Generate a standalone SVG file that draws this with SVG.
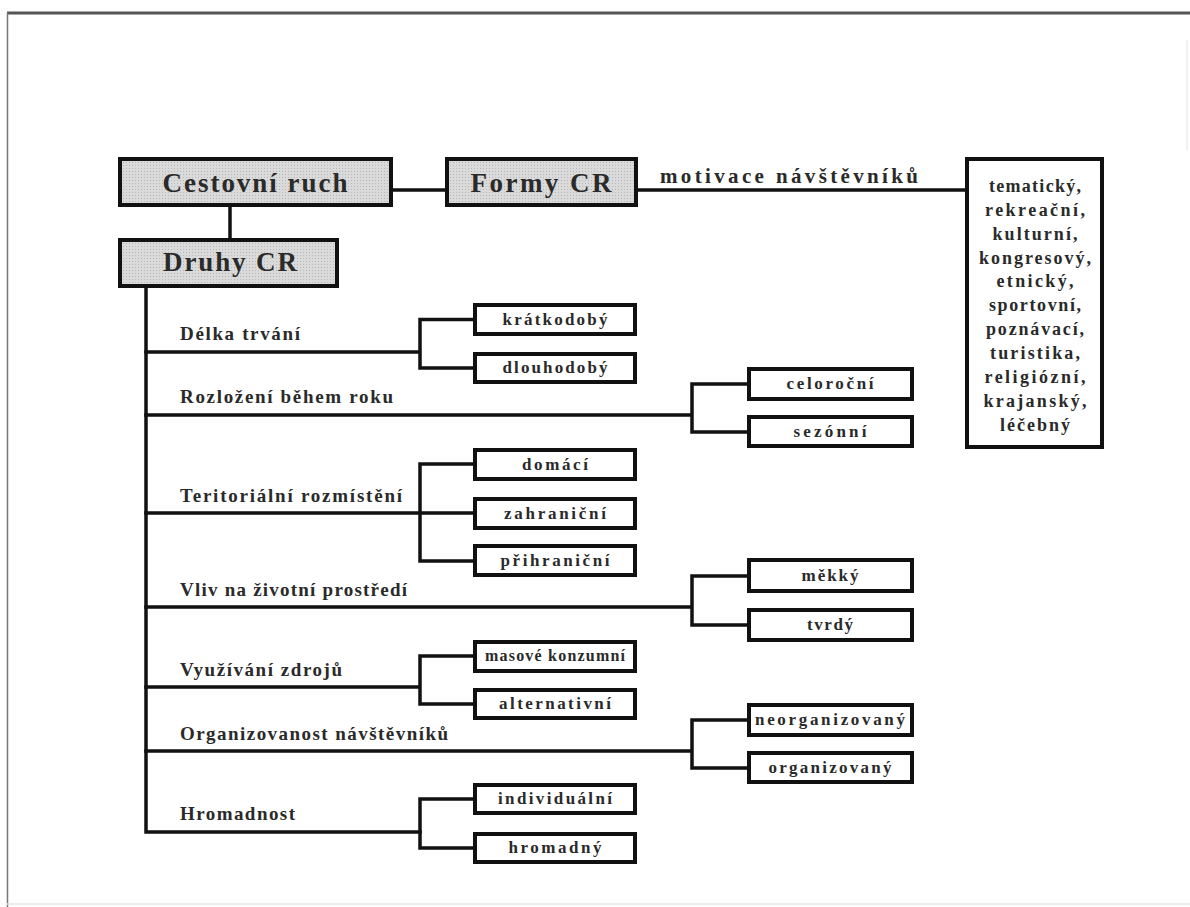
<svg xmlns="http://www.w3.org/2000/svg" width="1190" height="907" viewBox="0 0 1190 907">
<style>
  .top { fill: url(#dots); stroke: #111; stroke-width: 4; }
  .box { fill: #fff; stroke: #111; stroke-width: 4; }
  .conn { fill: none; stroke: #111; stroke-width: 3.5; stroke-linejoin: miter; stroke-linecap: square; }
  text { font-family: "Liberation Serif", "Times New Roman", serif; font-weight: bold; fill: #2a2a2a; }
  .h { font-size: 27px; text-anchor: middle; }
  .lab { font-size: 19px; }
  .bt { font-size: 17px; text-anchor: middle; }
  .lt { font-size: 18px; text-anchor: middle; }
</style>
<defs>
  <pattern id="dots" width="3" height="3" patternUnits="userSpaceOnUse">
    <rect width="3" height="3" fill="#dadada"/>
    <rect width="1" height="1" fill="#b8b8b8"/>
  </pattern>
</defs>
<rect width="1190" height="907" fill="#fff"/>
<g id="frame">
  <line x1="7" y1="13" x2="1190" y2="13" stroke="#555" stroke-width="3"/>
  <line x1="7.5" y1="13" x2="7.5" y2="907" stroke="#777" stroke-width="1.5"/>
  <line x1="1187" y1="40" x2="1187" y2="150" stroke="#e2e2e2" stroke-width="1"/>
  <line x1="7" y1="904" x2="1190" y2="904" stroke="#e4e4e4" stroke-width="1.5"/>
</g>
<g id="connectors">
  <path class="conn" d="M393 190 H445"/>
  <path class="conn" d="M230 207 V238"/>
  <path class="conn" d="M638 190 H965"/>
  <path class="conn" d="M146 288 V832 H420"/>
  <path class="conn" d="M146 352 H420 M473 319.5 H420 V368 H473"/>
  <path class="conn" d="M146 415 H692 M747 384 H692 V432 H747"/>
  <path class="conn" d="M146 513 H473 M473 464 H420 V561 H473"/>
  <path class="conn" d="M146 607 H692 M747 576 H692 V625 H747"/>
  <path class="conn" d="M146 687 H420 M473 656 H420 V704 H473"/>
  <path class="conn" d="M146 751 H692 M747 720 H692 V768 H747"/>
  <path class="conn" d="M473 799 H420 V848 H473"/>
</g>
<g id="cestovni-ruch">
  <rect class="top" x="120" y="159" width="271" height="46"/>
  <text class="h" x="255" y="192" textLength="185" lengthAdjust="spacing">Cestovní ruch</text>
</g>
<g id="formy-cr">
  <rect class="top" x="447" y="159" width="189" height="46"/>
  <text class="h" x="541" y="192" textLength="141" lengthAdjust="spacing">Formy CR</text>
</g>
<g id="druhy-cr">
  <rect class="top" x="120" y="240" width="217" height="46"/>
  <text class="h" x="230" y="271" textLength="134" lengthAdjust="spacing">Druhy CR</text>
</g>
<g id="motivace-label">
  <text x="660" y="183" style="font-size:21px" textLength="258" lengthAdjust="spacing">motivace návštěvníků</text>
</g>
<g id="formy-list">
  <rect class="box" x="967" y="159" width="135" height="288"/>
  <text class="lt" x="1035" y="192" textLength="92" lengthAdjust="spacing">tematický,</text>
  <text class="lt" x="1035" y="216" textLength="100" lengthAdjust="spacing">rekreační,</text>
  <text class="lt" x="1035" y="240" textLength="85" lengthAdjust="spacing">kulturní,</text>
  <text class="lt" x="1035" y="264" textLength="112" lengthAdjust="spacing">kongresový,</text>
  <text class="lt" x="1035" y="287" textLength="77" lengthAdjust="spacing">etnický,</text>
  <text class="lt" x="1035" y="311" textLength="92" lengthAdjust="spacing">sportovní,</text>
  <text class="lt" x="1035" y="335" textLength="98" lengthAdjust="spacing">poznávací,</text>
  <text class="lt" x="1035" y="359" textLength="90" lengthAdjust="spacing">turistika,</text>
  <text class="lt" x="1035" y="383" textLength="101" lengthAdjust="spacing">religiózní,</text>
  <text class="lt" x="1035" y="407" textLength="103" lengthAdjust="spacing">krajanský,</text>
  <text class="lt" x="1035" y="431" textLength="70" lengthAdjust="spacing">léčebný</text>
</g>
<g id="labels">
  <text class="lab" x="180" y="340" textLength="120" lengthAdjust="spacing">Délka trvání</text>
  <text class="lab" x="180" y="403" textLength="213" lengthAdjust="spacing">Rozložení během roku</text>
  <text class="lab" x="180" y="502" textLength="222" lengthAdjust="spacing">Teritoriální rozmístění</text>
  <text class="lab" x="180" y="596" textLength="227" lengthAdjust="spacing">Vliv na životní prostředí</text>
  <text class="lab" x="180" y="676" textLength="162" lengthAdjust="spacing">Využívání zdrojů</text>
  <text class="lab" x="180" y="740" textLength="268" lengthAdjust="spacing">Organizovanost návštěvníků</text>
  <text class="lab" x="180" y="820" textLength="115" lengthAdjust="spacing">Hromadnost</text>
</g>
<g id="kratkodoby"><rect class="box" x="475" y="305" width="160" height="29"/><text class="bt" x="555" y="325" textLength="105" lengthAdjust="spacing">krátkodobý</text></g>
<g id="dlouhodoby"><rect class="box" x="475" y="354" width="160" height="28"/><text class="bt" x="555" y="373" textLength="105" lengthAdjust="spacing">dlouhodobý</text></g>
<g id="celorocni"><rect class="box" x="749" y="369" width="163" height="30"/><text class="bt" x="830" y="389" textLength="87" lengthAdjust="spacing">celoroční</text></g>
<g id="sezonni"><rect class="box" x="749" y="417" width="163" height="29"/><text class="bt" x="830" y="437" textLength="73" lengthAdjust="spacing">sezónní</text></g>
<g id="domaci"><rect class="box" x="475" y="450" width="160" height="29"/><text class="bt" x="555" y="470" textLength="66" lengthAdjust="spacing">domácí</text></g>
<g id="zahranicni"><rect class="box" x="475" y="499" width="160" height="29"/><text class="bt" x="555" y="519" textLength="102" lengthAdjust="spacing">zahraniční</text></g>
<g id="prihranicni"><rect class="box" x="475" y="546" width="160" height="29"/><text class="bt" x="555" y="566" textLength="109" lengthAdjust="spacing">přihraniční</text></g>
<g id="mekky"><rect class="box" x="749" y="560" width="163" height="31"/><text class="bt" x="830" y="581" textLength="57" lengthAdjust="spacing">měkký</text></g>
<g id="tvrdy"><rect class="box" x="749" y="610" width="163" height="30"/><text class="bt" x="830" y="630" textLength="46" lengthAdjust="spacing">tvrdý</text></g>
<g id="masove-konzumni"><rect class="box" x="475" y="642" width="160" height="29"/><text class="bt" x="555" y="661" style="font-size:16px" textLength="140" lengthAdjust="spacing">masové konzumní</text></g>
<g id="alternativni"><rect class="box" x="475" y="690" width="160" height="28"/><text class="bt" x="555" y="709" textLength="112" lengthAdjust="spacing">alternativní</text></g>
<g id="neorganizovany"><rect class="box" x="749" y="705" width="163" height="30"/><text class="bt" x="830" y="725" textLength="150" lengthAdjust="spacing">neorganizovaný</text></g>
<g id="organizovany"><rect class="box" x="749" y="753" width="163" height="29"/><text class="bt" x="830" y="773" textLength="123" lengthAdjust="spacing">organizovaný</text></g>
<g id="individualni"><rect class="box" x="475" y="785" width="160" height="28"/><text class="bt" x="555" y="804" textLength="114" lengthAdjust="spacing">individuální</text></g>
<g id="hromadny"><rect class="box" x="475" y="834" width="160" height="28"/><text class="bt" x="555" y="853" textLength="93" lengthAdjust="spacing">hromadný</text></g>
</svg>
